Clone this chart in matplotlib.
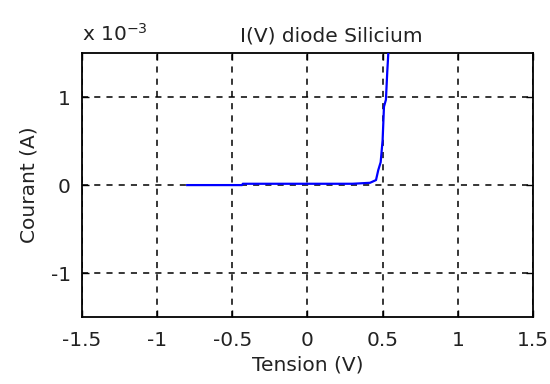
import numpy as np
import matplotlib.pyplot as plt
from matplotlib.ticker import FuncFormatter

# Mesures : tension aux bornes de la diode (V) et courant (A)
tension = [-0.80, -0.435, -0.43, 0.00, 0.30, 0.416, 0.456, 0.471, 0.487,
           0.500, 0.509, 0.522, 0.531, 0.538, 0.55]
courant = [0.0, 0.0, 1.5e-5, 1.5e-5, 1.5e-5, 2.6e-5, 5.7e-5, 1.7e-4, 2.6e-4,
           5.1e-4, 8.9e-4, 9.7e-4, 1.29e-3, 1.5e-3, 2.0e-3]

x_ticks = [-1.5, -1, -0.5, 0, 0.5, 1, 1.5]
y_ticks = [-1e-3, 0, 1e-3]

plt.rcParams['font.family'] = ['DejaVu Sans']
plt.rcParams['font.size'] = 14.5

fig = plt.figure(figsize=(5.5, 3.84), dpi=100)
ax = fig.add_axes([0.149, 0.174, 0.82, 0.688])

ax.plot(tension, courant, color=(0, 0, 1), linewidth=1.6, zorder=3)

ax.set_xlim(-1.5, 1.5)
ax.set_ylim(-1.5e-3, 1.5e-3)
ax.set_xticks(x_ticks)
ax.set_yticks(y_ticks)
ax.xaxis.set_major_formatter(FuncFormatter(lambda v, p: '%g' % v))
ax.yaxis.set_major_formatter(FuncFormatter(lambda v, p: '%g' % round(v * 1e3, 6)))

ax.grid(True, color='black', linestyle=(0, (4, 4)), linewidth=1.1)
ax.tick_params(direction='in', top=True, right=True, length=5, width=1,
               labelcolor='#222222')
ax.tick_params(axis='x', pad=10)
ax.tick_params(axis='y', pad=8)
for s in ax.spines.values():
    s.set_linewidth(1.3)

ax.set_xlabel('Tension (V)', labelpad=4, color='#222222')
ax.set_ylabel('Courant (A)', labelpad=9, color='#222222')
ax.text(0.552, 1.03, 'I(V) diode Silicium', transform=ax.transAxes,
        ha='center', va='bottom', color='#222222')
ax.text(0.0, 1.03, r'x 10$^{-3}$', transform=ax.transAxes,
        ha='left', va='bottom', color='#222222')

fig.savefig('out.png', dpi=100)
